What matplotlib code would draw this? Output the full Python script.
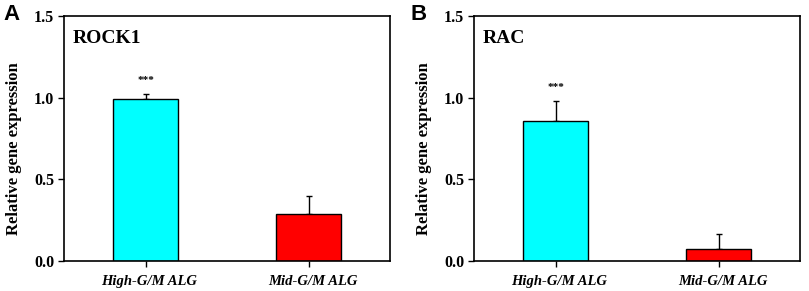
import matplotlib.pyplot as plt
import matplotlib.transforms as mtransforms

plt.rcParams['font.family'] = ['Liberation Serif', 'DejaVu Serif']

groups = ["High-G/M ALG", "Mid-G/M ALG"]
colors = ["#00ffff", "#ff0000"]

rock1_mean = [0.99, 0.29]
rock1_err = [0.035, 0.105]
rac_mean = [0.86, 0.075]
rac_err = [0.12, 0.09]

panels = [("A", "ROCK1", rock1_mean, rock1_err),
          ("B", "RAC", rac_mean, rac_err)]

fig = plt.figure(figsize=(8.09, 2.91), dpi=100)
lefts = [64 / 809, 474 / 809]
letter_x = [3 / 809, 410 / 809]

for left, lx, (letter, gene, mean, err) in zip(lefts, letter_x, panels):
    ax = fig.add_axes([left, 30 / 291, 326 / 809, 245 / 291])
    x = list(range(len(groups)))
    ax.bar(x, mean, width=0.4, color=colors, edgecolor="black", linewidth=1.0, zorder=2)
    ax.errorbar(x, mean, yerr=[[0, 0], err], fmt="none", ecolor="black",
                elinewidth=1.0, capsize=2.5, capthick=1.0, zorder=1)
    # significance stars
    ax.text(x[0], mean[0] + err[0] + 0.08, "***", ha="center", va="center",
            fontsize=8, fontweight="bold")
    ax.set_xlim(-0.5, 1.5)
    ax.set_ylim(0, 1.5)
    ax.set_yticks([0.0, 0.5, 1.0, 1.5])
    ax.set_yticklabels(["0.0", "0.5", "1.0", "1.5"], fontsize=11.5, fontweight="bold")
    ax.set_xticks(x)
    ax.set_xticklabels(groups, fontsize=10.5, fontweight="bold", fontstyle="italic")
    ax.tick_params(axis="both", direction="out", length=4, width=1.0, pad=3)
    ax.tick_params(axis="x", pad=6)
    shift = mtransforms.ScaledTranslation(4 / 100, 0, fig.dpi_scale_trans)
    for lab in ax.get_xticklabels():
        lab.set_transform(lab.get_transform() + shift)
    for sp in ax.spines.values():
        sp.set_linewidth(1.2)
    ax.set_ylabel("Relative gene expression", fontsize=12, fontweight="bold")
    ax.yaxis.set_label_coords(-0.128, 0.457)
    ax.text(0.027, 0.91, gene, transform=ax.transAxes, ha="left", va="center",
            fontsize=14, fontweight="bold")
    fig.text(lx, 1 - 4 / 291, letter, ha="left", va="top", fontsize=16, fontweight="bold",
             family=["Liberation Sans", "DejaVu Sans"])

plt.savefig("out.png", dpi=100)
